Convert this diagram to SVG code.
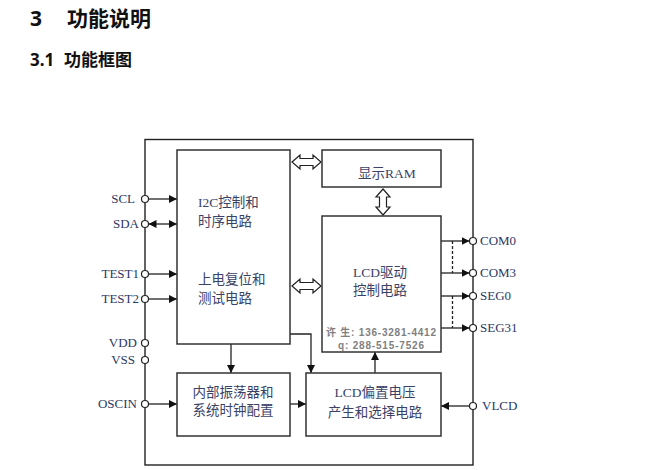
<svg xmlns="http://www.w3.org/2000/svg" width="650" height="470" viewBox="0 0 650 470">
<style>
.h{font-family:"Noto Sans","Noto Sans CJK SC",sans-serif;font-weight:bold;fill:#111}
.pin{font-family:"Liberation Serif","Noto Sans CJK SC",serif;font-size:13px;fill:#2a3866}
.blk{font-family:"Liberation Serif","Noto Sans CJK SC",serif;font-size:13.5px;fill:#3a4266}
.box{fill:#fff;stroke:#333;stroke-width:1.5}
.ln{fill:none;stroke:#222;stroke-width:1.3}
.pc{fill:#fff;stroke:#222;stroke-width:1.2}
.ha{fill:#fff;stroke:#222;stroke-width:1.2;stroke-linejoin:miter}
.wm{font-family:"Liberation Sans","Noto Sans CJK SC",sans-serif;font-size:10px;font-weight:bold;fill:#808080}
</style>
<defs>
<marker id="ae" viewBox="0 0 10 10" refX="10" refY="5" markerWidth="8" markerHeight="8" markerUnits="userSpaceOnUse" orient="auto">
<path d="M0,0 L10,5 L0,10 z" fill="#111"/>
</marker>
<marker id="as" viewBox="0 0 10 10" refX="0" refY="5" markerWidth="8" markerHeight="8" markerUnits="userSpaceOnUse" orient="auto">
<path d="M10,0 L0,5 L10,10 z" fill="#111"/>
</marker>
</defs>
<rect width="650" height="470" fill="#fff"/>
<text class="h" x="30" y="26" font-size="21">3</text>
<text class="h" x="67" y="26" font-size="21">功能说明</text>
<text class="h" x="30" y="66" font-size="17">3.1</text>
<text class="h" x="64" y="66" font-size="17">功能框图</text>

<g id="outer"><rect x="145" y="139.5" width="328" height="325.5" fill="none" stroke="#222" stroke-width="1.4"/></g>

<g id="connectors">
<line class="ln" x1="148.5" y1="199" x2="177" y2="199" marker-end="url(#ae)"/>
<line class="ln" x1="148.5" y1="224" x2="177" y2="224" marker-start="url(#as)" marker-end="url(#ae)"/>
<line class="ln" x1="148.5" y1="274" x2="177" y2="274" marker-end="url(#ae)"/>
<line class="ln" x1="148.5" y1="299" x2="177" y2="299" marker-end="url(#ae)"/>
<line class="ln" x1="148.5" y1="404" x2="177" y2="404" marker-end="url(#ae)"/>
<line class="ln" x1="231" y1="344" x2="231" y2="373" marker-end="url(#ae)"/>
<path class="ln" d="M290,334 H311 V373" marker-end="url(#ae)"/>
<line class="ln" x1="290" y1="404" x2="306" y2="404" marker-end="url(#ae)"/>
<line class="ln" x1="375" y1="373" x2="375" y2="352" marker-end="url(#ae)"/>
<line class="ln" x1="469.5" y1="406" x2="441" y2="406" marker-end="url(#ae)"/>
<line class="ln" x1="441" y1="241" x2="469.5" y2="241" marker-end="url(#ae)"/>
<line class="ln" x1="441" y1="273" x2="469.5" y2="273" marker-end="url(#ae)"/>
<line class="ln" x1="441" y1="296" x2="469.5" y2="296" marker-end="url(#ae)"/>
<line class="ln" x1="441" y1="328" x2="469.5" y2="328" marker-end="url(#ae)"/>
<line class="ln" x1="452.5" y1="241" x2="452.5" y2="273" stroke-dasharray="3,2" stroke-width="1"/>
<line class="ln" x1="452.5" y1="296" x2="452.5" y2="328" stroke-dasharray="3,2" stroke-width="1"/>
<path class="ha" d="M292,162 L300,155 L300,158.5 L313,158.5 L313,155 L321,162 L313,169 L313,165.5 L300,165.5 L300,169 Z"/>
<path class="ha" d="M292,286 L300,279 L300,282.5 L313,282.5 L313,279 L321,286 L313,293 L313,289.5 L300,289.5 L300,293 Z"/>
<path class="ha" d="M383,189 L390,197 L386.5,197 L386.5,207 L390,207 L383,215 L376,207 L379.5,207 L379.5,197 L376,197 Z"/>
</g>

<g id="pins">
<circle class="pc" cx="145" cy="199" r="3.5"/>
<circle class="pc" cx="145" cy="224" r="3.5"/>
<circle class="pc" cx="145" cy="274" r="3.5"/>
<circle class="pc" cx="145" cy="299" r="3.5"/>
<circle class="pc" cx="145" cy="343" r="3.5"/>
<circle class="pc" cx="145" cy="360" r="3.5"/>
<circle class="pc" cx="145" cy="404" r="3.5"/>
<circle class="pc" cx="473" cy="241" r="3.5"/>
<circle class="pc" cx="473" cy="273" r="3.5"/>
<circle class="pc" cx="473" cy="296" r="3.5"/>
<circle class="pc" cx="473" cy="328" r="3.5"/>
<circle class="pc" cx="473" cy="406" r="3.5"/>
<text class="pin" x="135" y="203" text-anchor="end">SCL</text>
<text class="pin" x="139" y="228" text-anchor="end">SDA</text>
<text class="pin" x="139" y="278" text-anchor="end">TEST1</text>
<text class="pin" x="139" y="303" text-anchor="end">TEST2</text>
<text class="pin" x="137" y="347" text-anchor="end">VDD</text>
<text class="pin" x="135" y="364" text-anchor="end">VSS</text>
<text class="pin" x="137" y="408" text-anchor="end">OSCIN</text>
<text class="pin" x="480" y="245">COM0</text>
<text class="pin" x="480" y="277">COM3</text>
<text class="pin" x="480" y="300">SEG0</text>
<text class="pin" x="480" y="332">SEG31</text>
<text class="pin" x="482" y="410">VLCD</text>
</g>

<g id="i2c">
<rect class="box" x="177" y="150" width="113" height="194"/>
<text class="blk" x="198" y="207">I2C控制和</text>
<text class="blk" x="198" y="226">时序电路</text>
<text class="blk" x="198" y="284">上电复位和</text>
<text class="blk" x="198" y="303">测试电路</text>
</g>

<g id="ram">
<rect class="box" x="322" y="150" width="119" height="37"/>
<text class="blk" x="387" y="178" text-anchor="middle">显示RAM</text>
</g>

<g id="driver">
<rect class="box" x="322" y="216" width="119" height="136"/>
<text class="blk" x="380" y="277" text-anchor="middle">LCD驱动</text>
<text class="blk" x="380" y="295" text-anchor="middle">控制电路</text>
<text class="wm" x="326" y="336" textLength="110" lengthAdjust="spacing">许 生: 136-3281-4412</text>
<text class="wm" x="338" y="349" textLength="86" lengthAdjust="spacing">q: 288-515-7526</text>
</g>

<g id="osc">
<rect class="box" x="177" y="373" width="113" height="63"/>
<text class="blk" x="233" y="397" text-anchor="middle">内部振荡器和</text>
<text class="blk" x="233" y="415" text-anchor="middle">系统时钟配置</text>
</g>

<g id="bias">
<rect class="box" x="306" y="373" width="135" height="63"/>
<text class="blk" x="375" y="397" text-anchor="middle">LCD偏置电压</text>
<text class="blk" x="375" y="417" text-anchor="middle">产生和选择电路</text>
</g>
</svg>
